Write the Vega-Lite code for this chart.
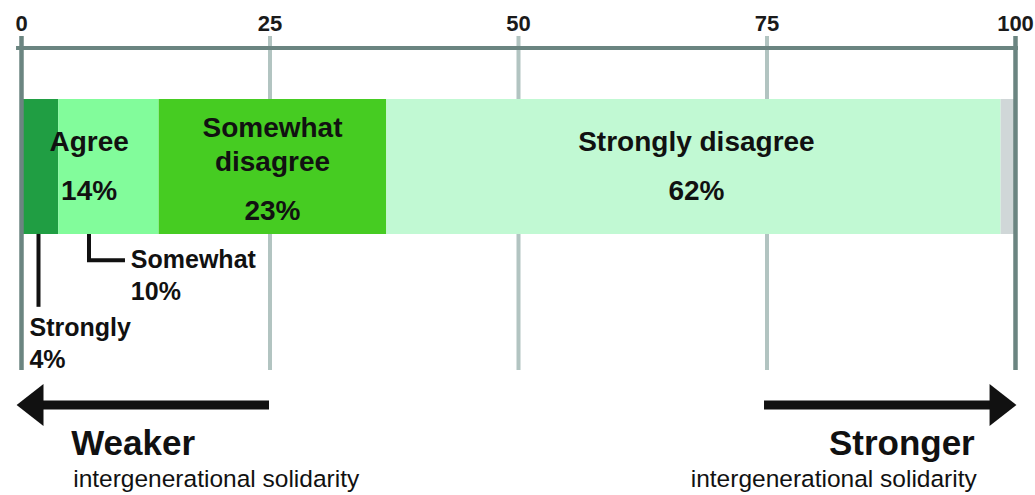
{
  "$schema": "https://vega.github.io/schema/vega-lite/v6.json",
  "width": 994,
  "height": 447,
  "autosize": {"type": "none"},
  "padding": {"left": 21.5, "top": 48, "right": 19.5, "bottom": 0},
  "background": "white",
  "config": {"view": {"stroke": null}, "text": {"font": "Liberation Sans"}, "scale": {"continuousPadding": 0}},
  "datasets": {
    "responses": [
      {"response": "Strongly agree", "pct": 3.7, "rank": 1},
      {"response": "Somewhat agree", "pct": 10.1, "rank": 2},
      {"response": "Somewhat disagree", "pct": 22.9, "rank": 3},
      {"response": "Strongly disagree", "pct": 61.8, "rank": 4},
      {"response": "No answer", "pct": 1.5, "rank": 5}
    ],
    "ticks": [{"t": 0}, {"t": 25}, {"t": 50}, {"t": 75}, {"t": 100}],
    "leaders": [
      {"leader": "strongly", "seq": 1, "x": 1.71, "y": 41.6},
      {"leader": "strongly", "seq": 2, "x": 1.71, "y": 57.9},
      {"leader": "somewhat", "seq": 1, "x": 6.79, "y": 41.6},
      {"leader": "somewhat", "seq": 2, "x": 6.79, "y": 47.5},
      {"leader": "somewhat", "seq": 3, "x": 10.41, "y": 47.5}
    ],
    "arrows": [
      {"side": "weaker", "start": 0.86, "end": 24.9, "head": 0.86, "level": 79.87},
      {"side": "stronger", "start": 74.7, "end": 98.74, "head": 98.74, "level": 79.87}
    ],
    "barLabels": [
      {"label": "Agree", "x": 6.8, "y": 23.04},
      {"label": "14%", "x": 6.8, "y": 34.0},
      {"label": "Somewhat", "x": 25.25, "y": 19.91},
      {"label": "disagree", "x": 25.25, "y": 27.52},
      {"label": "23%", "x": 25.25, "y": 38.48},
      {"label": "Strongly disagree", "x": 67.9, "y": 23.04},
      {"label": "62%", "x": 67.9, "y": 34.0}
    ],
    "subLabels": [
      {"label": "Somewhat", "x": 11.0, "y": 49.2},
      {"label": "10%", "x": 11.0, "y": 56.4},
      {"label": "Strongly", "x": 0.8, "y": 64.43},
      {"label": "4%", "x": 0.8, "y": 71.6}
    ],
    "dirLabels": [
      {"side": "weaker", "label": "Weaker", "x": 5.0, "y": 91.05},
      {"side": "stronger", "label": "Stronger", "x": 95.9, "y": 91.05}
    ],
    "dirSubs": [
      {"side": "weaker", "label": "intergenerational solidarity", "x": 5.2, "y": 98.2},
      {"side": "stronger", "label": "intergenerational solidarity", "x": 96.1, "y": 98.2}
    ]
  },
  "layer": [
    {
      "data": {"name": "ticks"},
      "transform": [{"filter": "datum.t > 0 && datum.t < 100"}],
      "mark": {"type": "rule", "color": "#b2c4c1", "strokeWidth": 4},
      "encoding": {
        "x": {"field": "t", "type": "quantitative", "scale": {"domain": [0, 100], "nice": false, "zero": false}, "axis": null},
        "y": {"datum": -2.68, "type": "quantitative", "scale": {"domain": [0, 100], "reverse": true, "nice": false, "zero": false}, "axis": null},
        "y2": {"datum": 72.04}
      }
    },
    {
      "data": {"name": "responses"},
      "transform": [{"stack": "pct", "groupby": [], "sort": [{"field": "rank", "order": "ascending"}], "as": ["x0", "x1"]}],
      "mark": {"type": "bar", "orient": "horizontal"},
      "encoding": {
        "x": {"field": "x0", "type": "quantitative", "scale": {"domain": [0, 100], "nice": false, "zero": false}, "axis": null},
        "x2": {"field": "x1"},
        "y": {"datum": 11.41, "type": "quantitative", "scale": {"domain": [0, 100], "reverse": true, "nice": false, "zero": false}, "axis": null},
        "y2": {"datum": 41.61},
        "color": {
          "field": "response", "type": "nominal",
          "scale": {
            "domain": ["Strongly agree", "Somewhat agree", "Somewhat disagree", "Strongly disagree", "No answer"],
            "range": ["#209e43", "#82fc9b", "#46cc22", "#c1f9d3", "#d0d7d8"]
          },
          "legend": null
        }
      }
    },
    {
      "data": {"name": "ticks"},
      "mark": {"type": "rule", "color": "#6b8581", "strokeWidth": 4},
      "encoding": {
        "x": {"datum": -0.5, "type": "quantitative", "scale": {"domain": [0, 100], "nice": false, "zero": false}, "axis": null},
        "x2": {"datum": 100.2},
        "y": {"datum": 0, "type": "quantitative", "scale": {"domain": [0, 100], "reverse": true, "nice": false, "zero": false}, "axis": null}
      }
    },
    {
      "data": {"name": "ticks"},
      "transform": [{"filter": "datum.t == 0 || datum.t == 100"}],
      "mark": {"type": "rule", "color": "#6b8581", "strokeWidth": 4.5},
      "encoding": {
        "x": {"field": "t", "type": "quantitative", "scale": {"domain": [0, 100], "nice": false, "zero": false}, "axis": null},
        "y": {"datum": -2.68, "type": "quantitative", "scale": {"domain": [0, 100], "reverse": true, "nice": false, "zero": false}, "axis": null},
        "y2": {"datum": 72.04}
      }
    },
    {
      "data": {"name": "ticks"},
      "mark": {"type": "text", "font": "Liberation Sans", "fontWeight": "bold", "fontSize": 22, "color": "#1a1a1a", "align": "center", "baseline": "alphabetic"},
      "encoding": {
        "x": {"field": "t", "type": "quantitative", "scale": {"domain": [0, 100], "nice": false, "zero": false}, "axis": null},
        "y": {"datum": -3.9, "type": "quantitative", "scale": {"domain": [0, 100], "reverse": true, "nice": false, "zero": false}, "axis": null},
        "text": {"field": "t", "type": "quantitative", "format": "d"}
      }
    },
    {
      "data": {"name": "leaders"},
      "mark": {"type": "line", "color": "#111111", "strokeWidth": 4, "strokeJoin": "miter", "strokeCap": "butt"},
      "encoding": {
        "x": {"field": "x", "type": "quantitative", "scale": {"domain": [0, 100], "nice": false, "zero": false}, "axis": null},
        "y": {"field": "y", "type": "quantitative", "scale": {"domain": [0, 100], "reverse": true, "nice": false, "zero": false}, "axis": null},
        "detail": {"field": "leader", "type": "nominal"},
        "order": {"field": "seq", "type": "quantitative"}
      }
    },
    {
      "data": {"name": "arrows"},
      "mark": {"type": "rule", "color": "#111111", "strokeWidth": 9, "strokeCap": "butt"},
      "encoding": {
        "x": {"field": "start", "type": "quantitative", "scale": {"domain": [0, 100], "nice": false, "zero": false}, "axis": null},
        "x2": {"field": "end"},
        "y": {"field": "level", "type": "quantitative", "scale": {"domain": [0, 100], "reverse": true, "nice": false, "zero": false}, "axis": null}
      }
    },
    {
      "data": {"name": "arrows"},
      "transform": [{"filter": "datum.side == 'weaker'"}],
      "mark": {"type": "point", "shape": "M -0.64 0 L 0.64 -1 L 0.64 1 Z", "filled": true, "size": 1764, "color": "#111111", "opacity": 1, "strokeWidth": 0},
      "encoding": {
        "x": {"field": "head", "type": "quantitative", "scale": {"domain": [0, 100], "nice": false, "zero": false}, "axis": null},
        "y": {"field": "level", "type": "quantitative", "scale": {"domain": [0, 100], "reverse": true, "nice": false, "zero": false}, "axis": null}
      }
    },
    {
      "data": {"name": "arrows"},
      "transform": [{"filter": "datum.side == 'stronger'"}],
      "mark": {"type": "point", "shape": "M 0.64 0 L -0.64 -1 L -0.64 1 Z", "filled": true, "size": 1764, "color": "#111111", "opacity": 1, "strokeWidth": 0},
      "encoding": {
        "x": {"field": "head", "type": "quantitative", "scale": {"domain": [0, 100], "nice": false, "zero": false}, "axis": null},
        "y": {"field": "level", "type": "quantitative", "scale": {"domain": [0, 100], "reverse": true, "nice": false, "zero": false}, "axis": null}
      }
    },
    {
      "data": {"name": "barLabels"},
      "mark": {"type": "text", "font": "Liberation Sans", "fontWeight": "bold", "fontSize": 28, "color": "#111111", "align": "center", "baseline": "alphabetic"},
      "encoding": {
        "x": {"field": "x", "type": "quantitative", "scale": {"domain": [0, 100], "nice": false, "zero": false}, "axis": null},
        "y": {"field": "y", "type": "quantitative", "scale": {"domain": [0, 100], "reverse": true, "nice": false, "zero": false}, "axis": null},
        "text": {"field": "label", "type": "nominal"}
      }
    },
    {
      "data": {"name": "subLabels"},
      "mark": {"type": "text", "font": "Liberation Sans", "fontWeight": "bold", "fontSize": 25, "color": "#111111", "align": "left", "baseline": "alphabetic"},
      "encoding": {
        "x": {"field": "x", "type": "quantitative", "scale": {"domain": [0, 100], "nice": false, "zero": false}, "axis": null},
        "y": {"field": "y", "type": "quantitative", "scale": {"domain": [0, 100], "reverse": true, "nice": false, "zero": false}, "axis": null},
        "text": {"field": "label", "type": "nominal"}
      }
    },
    {
      "data": {"name": "dirLabels"},
      "transform": [{"filter": "datum.side == 'weaker'"}],
      "mark": {"type": "text", "font": "Liberation Sans", "fontWeight": "bold", "fontSize": 35, "color": "#111111", "align": "left", "baseline": "alphabetic"},
      "encoding": {
        "x": {"field": "x", "type": "quantitative", "scale": {"domain": [0, 100], "nice": false, "zero": false}, "axis": null},
        "y": {"field": "y", "type": "quantitative", "scale": {"domain": [0, 100], "reverse": true, "nice": false, "zero": false}, "axis": null},
        "text": {"field": "label", "type": "nominal"}
      }
    },
    {
      "data": {"name": "dirLabels"},
      "transform": [{"filter": "datum.side == 'stronger'"}],
      "mark": {"type": "text", "font": "Liberation Sans", "fontWeight": "bold", "fontSize": 35, "color": "#111111", "align": "right", "baseline": "alphabetic"},
      "encoding": {
        "x": {"field": "x", "type": "quantitative", "scale": {"domain": [0, 100], "nice": false, "zero": false}, "axis": null},
        "y": {"field": "y", "type": "quantitative", "scale": {"domain": [0, 100], "reverse": true, "nice": false, "zero": false}, "axis": null},
        "text": {"field": "label", "type": "nominal"}
      }
    },
    {
      "data": {"name": "dirSubs"},
      "transform": [{"filter": "datum.side == 'weaker'"}],
      "mark": {"type": "text", "font": "Liberation Sans", "fontWeight": "normal", "fontSize": 24.5, "color": "#111111", "align": "left", "baseline": "alphabetic"},
      "encoding": {
        "x": {"field": "x", "type": "quantitative", "scale": {"domain": [0, 100], "nice": false, "zero": false}, "axis": null},
        "y": {"field": "y", "type": "quantitative", "scale": {"domain": [0, 100], "reverse": true, "nice": false, "zero": false}, "axis": null},
        "text": {"field": "label", "type": "nominal"}
      }
    },
    {
      "data": {"name": "dirSubs"},
      "transform": [{"filter": "datum.side == 'stronger'"}],
      "mark": {"type": "text", "font": "Liberation Sans", "fontWeight": "normal", "fontSize": 24.5, "color": "#111111", "align": "right", "baseline": "alphabetic"},
      "encoding": {
        "x": {"field": "x", "type": "quantitative", "scale": {"domain": [0, 100], "nice": false, "zero": false}, "axis": null},
        "y": {"field": "y", "type": "quantitative", "scale": {"domain": [0, 100], "reverse": true, "nice": false, "zero": false}, "axis": null},
        "text": {"field": "label", "type": "nominal"}
      }
    }
  ]
}
